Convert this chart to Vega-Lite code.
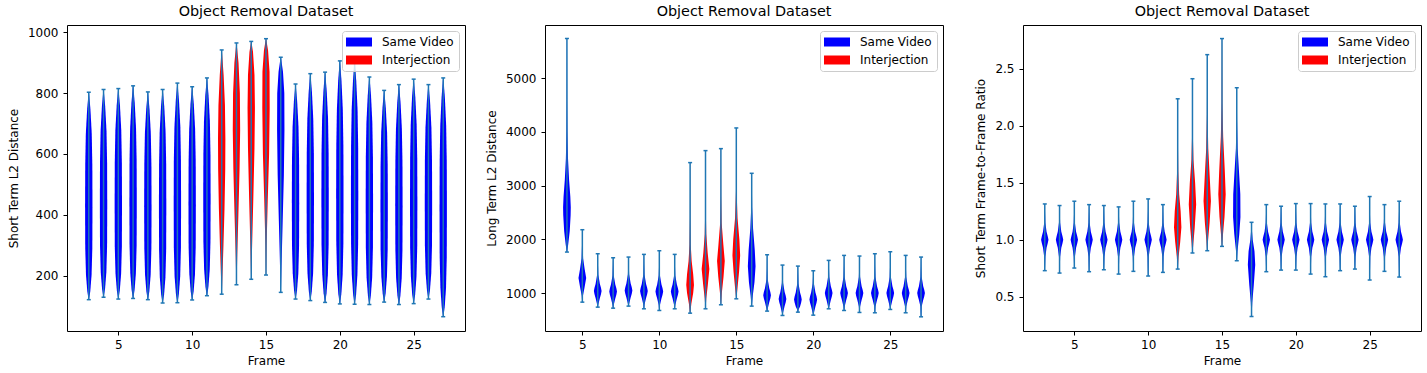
{
"$schema": "https://vega.github.io/schema/vega-lite/v6.json",
"background": "white",
"padding": {"left": 6, "top": 3, "right": 5, "bottom": 5},
"spacing": 80,
"bounds": "flush",
"datasets": {
"m1": [
{"f":3,"k":"Same Video","min":121,"max":803},{"f":4,"k":"Same Video","min":129,"max":812},{"f":5,"k":"Same Video","min":123,"max":815},{"f":6,"k":"Same Video","min":125,"max":824},{"f":7,"k":"Same Video","min":121,"max":804},{"f":8,"k":"Same Video","min":110,"max":812},{"f":9,"k":"Same Video","min":111,"max":833},{"f":10,"k":"Same Video","min":120,"max":821},{"f":11,"k":"Same Video","min":134,"max":850},{"f":12,"k":"Interjection","min":139,"max":942},{"f":13,"k":"Interjection","min":170,"max":965},{"f":14,"k":"Interjection","min":188,"max":970},{"f":15,"k":"Interjection","min":202,"max":979},{"f":16,"k":"Same Video","min":145,"max":918},{"f":17,"k":"Same Video","min":123,"max":830},{"f":18,"k":"Same Video","min":118,"max":864},{"f":19,"k":"Same Video","min":112,"max":869},{"f":20,"k":"Same Video","min":107,"max":906},{"f":21,"k":"Same Video","min":106,"max":905},{"f":22,"k":"Same Video","min":105,"max":853},{"f":23,"k":"Same Video","min":113,"max":809},{"f":24,"k":"Same Video","min":105,"max":828},{"f":25,"k":"Same Video","min":108,"max":846},{"f":26,"k":"Same Video","min":123,"max":828},{"f":27,"k":"Same Video","min":65,"max":850}
],
"m2": [
{"f":4,"k":"Same Video","min":1764,"max":5739},{"f":5,"k":"Same Video","min":832,"max":2180},{"f":6,"k":"Same Video","min":739,"max":1733},{"f":7,"k":"Same Video","min":720,"max":1658},{"f":8,"k":"Same Video","min":758,"max":1671},{"f":9,"k":"Same Video","min":708,"max":1721},{"f":10,"k":"Same Video","min":677,"max":1789},{"f":11,"k":"Same Video","min":708,"max":1721},{"f":12,"k":"Interjection","min":627,"max":3429},{"f":13,"k":"Interjection","min":708,"max":3652},{"f":14,"k":"Interjection","min":783,"max":3689},{"f":15,"k":"Interjection","min":894,"max":4074},{"f":16,"k":"Same Video","min":758,"max":3230},{"f":17,"k":"Same Video","min":665,"max":1714},{"f":18,"k":"Same Video","min":584,"max":1522},{"f":19,"k":"Same Video","min":646,"max":1503},{"f":20,"k":"Same Video","min":590,"max":1416},{"f":21,"k":"Same Video","min":708,"max":1609},{"f":22,"k":"Same Video","min":677,"max":1702},{"f":23,"k":"Same Video","min":640,"max":1690},{"f":24,"k":"Same Video","min":634,"max":1733},{"f":25,"k":"Same Video","min":696,"max":1770},{"f":26,"k":"Same Video","min":634,"max":1702},{"f":27,"k":"Same Video","min":559,"max":1671}
],
"m3": [
{"f":3,"k":"Same Video","min":0.729,"max":1.314},{"f":4,"k":"Same Video","min":0.708,"max":1.3},{"f":5,"k":"Same Video","min":0.752,"max":1.338},{"f":6,"k":"Same Video","min":0.72,"max":1.308},{"f":7,"k":"Same Video","min":0.737,"max":1.3},{"f":8,"k":"Same Video","min":0.699,"max":1.288},{"f":9,"k":"Same Video","min":0.723,"max":1.338},{"f":10,"k":"Same Video","min":0.682,"max":1.358},{"f":11,"k":"Same Video","min":0.714,"max":1.308},{"f":12,"k":"Interjection","min":0.743,"max":2.236},{"f":13,"k":"Interjection","min":0.884,"max":2.412},{"f":14,"k":"Interjection","min":0.904,"max":2.623},{"f":15,"k":"Interjection","min":0.942,"max":2.764},{"f":16,"k":"Same Video","min":0.816,"max":2.333},{"f":17,"k":"Same Video","min":0.327,"max":1.153},{"f":18,"k":"Same Video","min":0.72,"max":1.308},{"f":19,"k":"Same Video","min":0.734,"max":1.294},{"f":20,"k":"Same Video","min":0.734,"max":1.317},{"f":21,"k":"Same Video","min":0.699,"max":1.317},{"f":22,"k":"Same Video","min":0.676,"max":1.314},{"f":23,"k":"Same Video","min":0.729,"max":1.314},{"f":24,"k":"Same Video","min":0.743,"max":1.294},{"f":25,"k":"Same Video","min":0.647,"max":1.379},{"f":26,"k":"Same Video","min":0.723,"max":1.308},{"f":27,"k":"Same Video","min":0.673,"max":1.338}
],
"s1": [
{"f":3,"y":121,"lo":2.99,"hi":3.01},{"f":3,"y":148,"lo":2.9,"hi":3.1},{"f":3,"y":203,"lo":2.81,"hi":3.19},{"f":3,"y":292,"lo":2.76,"hi":3.24},{"f":3,"y":428,"lo":2.75,"hi":3.25},{"f":3,"y":564,"lo":2.76,"hi":3.24},{"f":3,"y":667,"lo":2.8,"hi":3.2},{"f":3,"y":748,"lo":2.89,"hi":3.11},{"f":3,"y":803,"lo":2.99,"hi":3.01},
{"f":4,"y":129,"lo":3.99,"hi":4.01},{"f":4,"y":156,"lo":3.9,"hi":4.1},{"f":4,"y":211,"lo":3.81,"hi":4.19},{"f":4,"y":300,"lo":3.76,"hi":4.24},{"f":4,"y":436,"lo":3.75,"hi":4.25},{"f":4,"y":573,"lo":3.76,"hi":4.24},{"f":4,"y":675,"lo":3.8,"hi":4.2},{"f":4,"y":757,"lo":3.89,"hi":4.11},{"f":4,"y":812,"lo":3.99,"hi":4.01},
{"f":5,"y":123,"lo":4.99,"hi":5.01},{"f":5,"y":151,"lo":4.9,"hi":5.1},{"f":5,"y":206,"lo":4.81,"hi":5.19},{"f":5,"y":296,"lo":4.76,"hi":5.24},{"f":5,"y":434,"lo":4.75,"hi":5.25},{"f":5,"y":573,"lo":4.76,"hi":5.24},{"f":5,"y":677,"lo":4.8,"hi":5.2},{"f":5,"y":760,"lo":4.89,"hi":5.11},{"f":5,"y":815,"lo":4.99,"hi":5.01},
{"f":6,"y":125,"lo":5.99,"hi":6.01},{"f":6,"y":153,"lo":5.9,"hi":6.1},{"f":6,"y":209,"lo":5.81,"hi":6.19},{"f":6,"y":300,"lo":5.76,"hi":6.24},{"f":6,"y":440,"lo":5.75,"hi":6.25},{"f":6,"y":579,"lo":5.76,"hi":6.24},{"f":6,"y":684,"lo":5.8,"hi":6.2},{"f":6,"y":768,"lo":5.89,"hi":6.11},{"f":6,"y":824,"lo":5.99,"hi":6.01},
{"f":7,"y":121,"lo":6.99,"hi":7.01},{"f":7,"y":148,"lo":6.9,"hi":7.1},{"f":7,"y":203,"lo":6.81,"hi":7.19},{"f":7,"y":292,"lo":6.76,"hi":7.24},{"f":7,"y":428,"lo":6.75,"hi":7.25},{"f":7,"y":565,"lo":6.76,"hi":7.24},{"f":7,"y":667,"lo":6.8,"hi":7.2},{"f":7,"y":749,"lo":6.89,"hi":7.11},{"f":7,"y":804,"lo":6.99,"hi":7.01},
{"f":8,"y":110,"lo":7.99,"hi":8.01},{"f":8,"y":138,"lo":7.9,"hi":8.1},{"f":8,"y":194,"lo":7.81,"hi":8.19},{"f":8,"y":286,"lo":7.76,"hi":8.24},{"f":8,"y":426,"lo":7.75,"hi":8.25},{"f":8,"y":566,"lo":7.76,"hi":8.24},{"f":8,"y":672,"lo":7.8,"hi":8.2},{"f":8,"y":756,"lo":7.89,"hi":8.11},{"f":8,"y":812,"lo":7.99,"hi":8.01},
{"f":9,"y":111,"lo":8.99,"hi":9.01},{"f":9,"y":140,"lo":8.9,"hi":9.1},{"f":9,"y":198,"lo":8.81,"hi":9.19},{"f":9,"y":292,"lo":8.76,"hi":9.24},{"f":9,"y":436,"lo":8.75,"hi":9.25},{"f":9,"y":580,"lo":8.76,"hi":9.24},{"f":9,"y":689,"lo":8.8,"hi":9.2},{"f":9,"y":775,"lo":8.89,"hi":9.11},{"f":9,"y":833,"lo":8.99,"hi":9.01},
{"f":10,"y":120,"lo":9.99,"hi":10.01},{"f":10,"y":148,"lo":9.9,"hi":10.1},{"f":10,"y":204,"lo":9.81,"hi":10.19},{"f":10,"y":295,"lo":9.76,"hi":10.24},{"f":10,"y":435,"lo":9.75,"hi":10.25},{"f":10,"y":576,"lo":9.76,"hi":10.24},{"f":10,"y":681,"lo":9.8,"hi":10.2},{"f":10,"y":765,"lo":9.89,"hi":10.11},{"f":10,"y":821,"lo":9.99,"hi":10.01},
{"f":11,"y":134,"lo":10.99,"hi":11.01},{"f":11,"y":163,"lo":10.9,"hi":11.1},{"f":11,"y":220,"lo":10.81,"hi":11.19},{"f":11,"y":313,"lo":10.76,"hi":11.24},{"f":11,"y":456,"lo":10.75,"hi":11.25},{"f":11,"y":599,"lo":10.76,"hi":11.24},{"f":11,"y":707,"lo":10.8,"hi":11.2},{"f":11,"y":793,"lo":10.89,"hi":11.11},{"f":11,"y":850,"lo":10.99,"hi":11.01},
{"f":12,"y":139,"lo":11.99,"hi":12.01},{"f":12,"y":200,"lo":11.95,"hi":12.05},{"f":12,"y":300,"lo":11.88,"hi":12.12},{"f":12,"y":420,"lo":11.81,"hi":12.19},{"f":12,"y":550,"lo":11.76,"hi":12.24},{"f":12,"y":650,"lo":11.75,"hi":12.25},{"f":12,"y":760,"lo":11.78,"hi":12.22},{"f":12,"y":860,"lo":11.87,"hi":12.13},{"f":12,"y":942,"lo":11.99,"hi":12.01},
{"f":13,"y":170,"lo":12.99,"hi":13.01},{"f":13,"y":260,"lo":12.95,"hi":13.05},{"f":13,"y":400,"lo":12.87,"hi":13.13},{"f":13,"y":550,"lo":12.79,"hi":13.21},{"f":13,"y":680,"lo":12.75,"hi":13.25},{"f":13,"y":800,"lo":12.77,"hi":13.23},{"f":13,"y":900,"lo":12.86,"hi":13.14},{"f":13,"y":965,"lo":12.99,"hi":13.01},
{"f":14,"y":188,"lo":13.99,"hi":14.01},{"f":14,"y":280,"lo":13.95,"hi":14.05},{"f":14,"y":450,"lo":13.86,"hi":14.14},{"f":14,"y":620,"lo":13.78,"hi":14.22},{"f":14,"y":750,"lo":13.75,"hi":14.25},{"f":14,"y":860,"lo":13.78,"hi":14.22},{"f":14,"y":935,"lo":13.88,"hi":14.12},{"f":14,"y":970,"lo":13.99,"hi":14.01},
{"f":15,"y":202,"lo":14.99,"hi":15.01},{"f":15,"y":300,"lo":14.96,"hi":15.04},{"f":15,"y":450,"lo":14.88,"hi":15.12},{"f":15,"y":600,"lo":14.79,"hi":15.21},{"f":15,"y":750,"lo":14.75,"hi":15.25},{"f":15,"y":870,"lo":14.76,"hi":15.24},{"f":15,"y":940,"lo":14.86,"hi":15.14},{"f":15,"y":979,"lo":14.99,"hi":15.01},
{"f":16,"y":145,"lo":15.99,"hi":16.01},{"f":16,"y":230,"lo":15.95,"hi":16.05},{"f":16,"y":380,"lo":15.87,"hi":16.13},{"f":16,"y":530,"lo":15.79,"hi":16.21},{"f":16,"y":680,"lo":15.75,"hi":16.25},{"f":16,"y":800,"lo":15.76,"hi":16.24},{"f":16,"y":870,"lo":15.85,"hi":16.15},{"f":16,"y":918,"lo":15.99,"hi":16.01},
{"f":17,"y":123,"lo":16.99,"hi":17.01},{"f":17,"y":151,"lo":16.9,"hi":17.1},{"f":17,"y":208,"lo":16.81,"hi":17.19},{"f":17,"y":300,"lo":16.76,"hi":17.24},{"f":17,"y":441,"lo":16.75,"hi":17.25},{"f":17,"y":583,"lo":16.76,"hi":17.24},{"f":17,"y":689,"lo":16.8,"hi":17.2},{"f":17,"y":773,"lo":16.89,"hi":17.11},{"f":17,"y":830,"lo":16.99,"hi":17.01},
{"f":18,"y":118,"lo":17.99,"hi":18.01},{"f":18,"y":148,"lo":17.9,"hi":18.1},{"f":18,"y":208,"lo":17.81,"hi":18.19},{"f":18,"y":305,"lo":17.76,"hi":18.24},{"f":18,"y":454,"lo":17.75,"hi":18.25},{"f":18,"y":603,"lo":17.76,"hi":18.24},{"f":18,"y":715,"lo":17.8,"hi":18.2},{"f":18,"y":804,"lo":17.89,"hi":18.11},{"f":18,"y":864,"lo":17.99,"hi":18.01},
{"f":19,"y":112,"lo":18.99,"hi":19.01},{"f":19,"y":142,"lo":18.9,"hi":19.1},{"f":19,"y":203,"lo":18.81,"hi":19.19},{"f":19,"y":301,"lo":18.76,"hi":19.24},{"f":19,"y":453,"lo":18.75,"hi":19.25},{"f":19,"y":604,"lo":18.76,"hi":19.24},{"f":19,"y":718,"lo":18.8,"hi":19.2},{"f":19,"y":808,"lo":18.89,"hi":19.11},{"f":19,"y":869,"lo":18.99,"hi":19.01},
{"f":20,"y":107,"lo":19.99,"hi":20.01},{"f":20,"y":139,"lo":19.9,"hi":20.1},{"f":20,"y":203,"lo":19.81,"hi":20.19},{"f":20,"y":307,"lo":19.76,"hi":20.24},{"f":20,"y":467,"lo":19.75,"hi":20.25},{"f":20,"y":626,"lo":19.76,"hi":20.24},{"f":20,"y":746,"lo":19.8,"hi":20.2},{"f":20,"y":842,"lo":19.89,"hi":20.11},{"f":20,"y":906,"lo":19.99,"hi":20.01},
{"f":21,"y":106,"lo":20.99,"hi":21.01},{"f":21,"y":138,"lo":20.9,"hi":21.1},{"f":21,"y":202,"lo":20.81,"hi":21.19},{"f":21,"y":306,"lo":20.76,"hi":21.24},{"f":21,"y":466,"lo":20.75,"hi":21.25},{"f":21,"y":625,"lo":20.76,"hi":21.24},{"f":21,"y":745,"lo":20.8,"hi":21.2},{"f":21,"y":841,"lo":20.89,"hi":21.11},{"f":21,"y":905,"lo":20.99,"hi":21.01},
{"f":22,"y":105,"lo":21.99,"hi":22.01},{"f":22,"y":135,"lo":21.9,"hi":22.1},{"f":22,"y":195,"lo":21.81,"hi":22.19},{"f":22,"y":292,"lo":21.76,"hi":22.24},{"f":22,"y":442,"lo":21.75,"hi":22.25},{"f":22,"y":591,"lo":21.76,"hi":22.24},{"f":22,"y":703,"lo":21.8,"hi":22.2},{"f":22,"y":793,"lo":21.89,"hi":22.11},{"f":22,"y":853,"lo":21.99,"hi":22.01},
{"f":23,"y":113,"lo":22.99,"hi":23.01},{"f":23,"y":141,"lo":22.9,"hi":23.1},{"f":23,"y":197,"lo":22.81,"hi":23.19},{"f":23,"y":287,"lo":22.76,"hi":23.24},{"f":23,"y":426,"lo":22.75,"hi":23.25},{"f":23,"y":565,"lo":22.76,"hi":23.24},{"f":23,"y":670,"lo":22.8,"hi":23.2},{"f":23,"y":753,"lo":22.89,"hi":23.11},{"f":23,"y":809,"lo":22.99,"hi":23.01},
{"f":24,"y":105,"lo":23.99,"hi":24.01},{"f":24,"y":134,"lo":23.9,"hi":24.1},{"f":24,"y":192,"lo":23.81,"hi":24.19},{"f":24,"y":286,"lo":23.76,"hi":24.24},{"f":24,"y":430,"lo":23.75,"hi":24.25},{"f":24,"y":575,"lo":23.76,"hi":24.24},{"f":24,"y":683,"lo":23.8,"hi":24.2},{"f":24,"y":770,"lo":23.89,"hi":24.11},{"f":24,"y":828,"lo":23.99,"hi":24.01},
{"f":25,"y":108,"lo":24.99,"hi":25.01},{"f":25,"y":138,"lo":24.9,"hi":25.1},{"f":25,"y":197,"lo":24.81,"hi":25.19},{"f":25,"y":293,"lo":24.76,"hi":25.24},{"f":25,"y":440,"lo":24.75,"hi":25.25},{"f":25,"y":588,"lo":24.76,"hi":25.24},{"f":25,"y":698,"lo":24.8,"hi":25.2},{"f":25,"y":787,"lo":24.89,"hi":25.11},{"f":25,"y":846,"lo":24.99,"hi":25.01},
{"f":26,"y":123,"lo":25.99,"hi":26.01},{"f":26,"y":151,"lo":25.9,"hi":26.1},{"f":26,"y":208,"lo":25.81,"hi":26.19},{"f":26,"y":299,"lo":25.76,"hi":26.24},{"f":26,"y":440,"lo":25.75,"hi":26.25},{"f":26,"y":581,"lo":25.76,"hi":26.24},{"f":26,"y":687,"lo":25.8,"hi":26.2},{"f":26,"y":772,"lo":25.89,"hi":26.11},{"f":26,"y":828,"lo":25.99,"hi":26.01},
{"f":27,"y":65,"lo":26.99,"hi":27.01},{"f":27,"y":96,"lo":26.9,"hi":27.1},{"f":27,"y":159,"lo":26.81,"hi":27.19},{"f":27,"y":261,"lo":26.76,"hi":27.24},{"f":27,"y":418,"lo":26.75,"hi":27.25},{"f":27,"y":575,"lo":26.76,"hi":27.24},{"f":27,"y":693,"lo":26.8,"hi":27.2},{"f":27,"y":787,"lo":26.89,"hi":27.11},{"f":27,"y":850,"lo":26.99,"hi":27.01}
],
"s2": [
{"f":4,"y":1764,"lo":3.99,"hi":4.01},{"f":4,"y":1900,"lo":3.92,"hi":4.08},{"f":4,"y":2150,"lo":3.82,"hi":4.18},{"f":4,"y":2450,"lo":3.76,"hi":4.24},{"f":4,"y":2600,"lo":3.75,"hi":4.25},{"f":4,"y":2800,"lo":3.78,"hi":4.22},{"f":4,"y":3100,"lo":3.86,"hi":4.14},{"f":4,"y":3500,"lo":3.93,"hi":4.07},{"f":4,"y":4000,"lo":3.97,"hi":4.03},{"f":4,"y":4600,"lo":3.988,"hi":4.012},{"f":4,"y":5739,"lo":3.995,"hi":4.005},
{"f":5,"y":832,"lo":4.99,"hi":5.01},{"f":5,"y":950,"lo":4.96,"hi":5.04},{"f":5,"y":1100,"lo":4.86,"hi":5.14},{"f":5,"y":1280,"lo":4.75,"hi":5.25},{"f":5,"y":1450,"lo":4.85,"hi":5.15},{"f":5,"y":1650,"lo":4.95,"hi":5.05},{"f":5,"y":1900,"lo":4.98,"hi":5.02},{"f":5,"y":2180,"lo":4.995,"hi":5.005},
{"f":6,"y":739,"lo":5.99,"hi":6.01},{"f":6,"y":790,"lo":5.96,"hi":6.04},{"f":6,"y":910,"lo":5.86,"hi":6.14},{"f":6,"y":980,"lo":5.79,"hi":6.21},{"f":6,"y":1040,"lo":5.75,"hi":6.25},{"f":6,"y":1100,"lo":5.79,"hi":6.21},{"f":6,"y":1170,"lo":5.86,"hi":6.14},{"f":6,"y":1340,"lo":5.96,"hi":6.04},{"f":6,"y":1540,"lo":5.985,"hi":6.015},{"f":6,"y":1733,"lo":5.995,"hi":6.005},
{"f":7,"y":720,"lo":6.99,"hi":7.01},{"f":7,"y":780,"lo":6.96,"hi":7.04},{"f":7,"y":900,"lo":6.86,"hi":7.14},{"f":7,"y":970,"lo":6.79,"hi":7.21},{"f":7,"y":1030,"lo":6.75,"hi":7.25},{"f":7,"y":1090,"lo":6.79,"hi":7.21},{"f":7,"y":1160,"lo":6.86,"hi":7.14},{"f":7,"y":1330,"lo":6.96,"hi":7.04},{"f":7,"y":1530,"lo":6.985,"hi":7.015},{"f":7,"y":1658,"lo":6.995,"hi":7.005},
{"f":8,"y":758,"lo":7.99,"hi":8.01},{"f":8,"y":800,"lo":7.96,"hi":8.04},{"f":8,"y":920,"lo":7.86,"hi":8.14},{"f":8,"y":990,"lo":7.79,"hi":8.21},{"f":8,"y":1050,"lo":7.75,"hi":8.25},{"f":8,"y":1110,"lo":7.79,"hi":8.21},{"f":8,"y":1180,"lo":7.86,"hi":8.14},{"f":8,"y":1350,"lo":7.96,"hi":8.04},{"f":8,"y":1550,"lo":7.985,"hi":8.015},{"f":8,"y":1671,"lo":7.995,"hi":8.005},
{"f":9,"y":708,"lo":8.99,"hi":9.01},{"f":9,"y":790,"lo":8.96,"hi":9.04},{"f":9,"y":910,"lo":8.86,"hi":9.14},{"f":9,"y":980,"lo":8.79,"hi":9.21},{"f":9,"y":1040,"lo":8.75,"hi":9.25},{"f":9,"y":1100,"lo":8.79,"hi":9.21},{"f":9,"y":1170,"lo":8.86,"hi":9.14},{"f":9,"y":1340,"lo":8.96,"hi":9.04},{"f":9,"y":1540,"lo":8.985,"hi":9.015},{"f":9,"y":1721,"lo":8.995,"hi":9.005},
{"f":10,"y":677,"lo":9.99,"hi":10.01},{"f":10,"y":780,"lo":9.96,"hi":10.04},{"f":10,"y":900,"lo":9.86,"hi":10.14},{"f":10,"y":970,"lo":9.79,"hi":10.21},{"f":10,"y":1030,"lo":9.75,"hi":10.25},{"f":10,"y":1090,"lo":9.79,"hi":10.21},{"f":10,"y":1160,"lo":9.86,"hi":10.14},{"f":10,"y":1330,"lo":9.96,"hi":10.04},{"f":10,"y":1530,"lo":9.985,"hi":10.015},{"f":10,"y":1789,"lo":9.995,"hi":10.005},
{"f":11,"y":708,"lo":10.99,"hi":11.01},{"f":11,"y":780,"lo":10.96,"hi":11.04},{"f":11,"y":900,"lo":10.86,"hi":11.14},{"f":11,"y":970,"lo":10.79,"hi":11.21},{"f":11,"y":1030,"lo":10.75,"hi":11.25},{"f":11,"y":1090,"lo":10.79,"hi":11.21},{"f":11,"y":1160,"lo":10.86,"hi":11.14},{"f":11,"y":1330,"lo":10.96,"hi":11.04},{"f":11,"y":1530,"lo":10.985,"hi":11.015},{"f":11,"y":1721,"lo":10.995,"hi":11.005},
{"f":12,"y":627,"lo":11.99,"hi":12.01},{"f":12,"y":800,"lo":11.92,"hi":12.08},{"f":12,"y":1000,"lo":11.8,"hi":12.2},{"f":12,"y":1150,"lo":11.75,"hi":12.25},{"f":12,"y":1350,"lo":11.8,"hi":12.2},{"f":12,"y":1600,"lo":11.9,"hi":12.1},{"f":12,"y":1900,"lo":11.96,"hi":12.04},{"f":12,"y":2400,"lo":11.988,"hi":12.012},{"f":12,"y":3429,"lo":11.995,"hi":12.005},
{"f":13,"y":708,"lo":12.99,"hi":13.01},{"f":13,"y":900,"lo":12.95,"hi":13.05},{"f":13,"y":1150,"lo":12.85,"hi":13.15},{"f":13,"y":1450,"lo":12.75,"hi":13.25},{"f":13,"y":1750,"lo":12.86,"hi":13.14},{"f":13,"y":2100,"lo":12.95,"hi":13.05},{"f":13,"y":2600,"lo":12.985,"hi":13.015},{"f":13,"y":3652,"lo":12.995,"hi":13.005},
{"f":14,"y":783,"lo":13.99,"hi":14.01},{"f":14,"y":1000,"lo":13.94,"hi":14.06},{"f":14,"y":1300,"lo":13.83,"hi":14.17},{"f":14,"y":1600,"lo":13.75,"hi":14.25},{"f":14,"y":1900,"lo":13.84,"hi":14.16},{"f":14,"y":2300,"lo":13.95,"hi":14.05},{"f":14,"y":2800,"lo":13.985,"hi":14.015},{"f":14,"y":3689,"lo":13.995,"hi":14.005},
{"f":15,"y":894,"lo":14.99,"hi":15.01},{"f":15,"y":1100,"lo":14.92,"hi":15.08},{"f":15,"y":1400,"lo":14.82,"hi":15.18},{"f":15,"y":1700,"lo":14.75,"hi":15.25},{"f":15,"y":2000,"lo":14.8,"hi":15.2},{"f":15,"y":2400,"lo":14.92,"hi":15.08},{"f":15,"y":2900,"lo":14.98,"hi":15.02},{"f":15,"y":4074,"lo":14.995,"hi":15.005},
{"f":16,"y":758,"lo":15.99,"hi":16.01},{"f":16,"y":950,"lo":15.93,"hi":16.07},{"f":16,"y":1200,"lo":15.82,"hi":16.18},{"f":16,"y":1500,"lo":15.75,"hi":16.25},{"f":16,"y":1800,"lo":15.8,"hi":16.2},{"f":16,"y":2200,"lo":15.91,"hi":16.09},{"f":16,"y":2600,"lo":15.97,"hi":16.03},{"f":16,"y":3230,"lo":15.995,"hi":16.005},
{"f":17,"y":665,"lo":16.99,"hi":17.01},{"f":17,"y":710,"lo":16.96,"hi":17.04},{"f":17,"y":830,"lo":16.86,"hi":17.14},{"f":17,"y":900,"lo":16.79,"hi":17.21},{"f":17,"y":960,"lo":16.75,"hi":17.25},{"f":17,"y":1020,"lo":16.79,"hi":17.21},{"f":17,"y":1090,"lo":16.86,"hi":17.14},{"f":17,"y":1260,"lo":16.96,"hi":17.04},{"f":17,"y":1460,"lo":16.985,"hi":17.015},{"f":17,"y":1714,"lo":16.995,"hi":17.005},
{"f":18,"y":584,"lo":17.99,"hi":18.01},{"f":18,"y":640,"lo":17.96,"hi":18.04},{"f":18,"y":760,"lo":17.86,"hi":18.14},{"f":18,"y":830,"lo":17.79,"hi":18.21},{"f":18,"y":890,"lo":17.75,"hi":18.25},{"f":18,"y":950,"lo":17.79,"hi":18.21},{"f":18,"y":1020,"lo":17.86,"hi":18.14},{"f":18,"y":1190,"lo":17.96,"hi":18.04},{"f":18,"y":1390,"lo":17.985,"hi":18.015},{"f":18,"y":1522,"lo":17.995,"hi":18.005},
{"f":19,"y":646,"lo":18.99,"hi":19.01},{"f":19,"y":690,"lo":18.96,"hi":19.04},{"f":19,"y":750,"lo":18.86,"hi":19.14},{"f":19,"y":820,"lo":18.79,"hi":19.21},{"f":19,"y":880,"lo":18.75,"hi":19.25},{"f":19,"y":940,"lo":18.79,"hi":19.21},{"f":19,"y":1010,"lo":18.86,"hi":19.14},{"f":19,"y":1180,"lo":18.96,"hi":19.04},{"f":19,"y":1380,"lo":18.985,"hi":19.015},{"f":19,"y":1503,"lo":18.995,"hi":19.005},
{"f":20,"y":590,"lo":19.99,"hi":20.01},{"f":20,"y":630,"lo":19.96,"hi":20.04},{"f":20,"y":750,"lo":19.86,"hi":20.14},{"f":20,"y":820,"lo":19.79,"hi":20.21},{"f":20,"y":880,"lo":19.75,"hi":20.25},{"f":20,"y":940,"lo":19.79,"hi":20.21},{"f":20,"y":1010,"lo":19.86,"hi":20.14},{"f":20,"y":1180,"lo":19.96,"hi":20.04},{"f":20,"y":1330,"lo":19.985,"hi":20.015},{"f":20,"y":1416,"lo":19.995,"hi":20.005},
{"f":21,"y":708,"lo":20.99,"hi":21.01},{"f":21,"y":750,"lo":20.96,"hi":21.04},{"f":21,"y":870,"lo":20.86,"hi":21.14},{"f":21,"y":940,"lo":20.79,"hi":21.21},{"f":21,"y":1000,"lo":20.75,"hi":21.25},{"f":21,"y":1060,"lo":20.79,"hi":21.21},{"f":21,"y":1130,"lo":20.86,"hi":21.14},{"f":21,"y":1300,"lo":20.96,"hi":21.04},{"f":21,"y":1500,"lo":20.985,"hi":21.015},{"f":21,"y":1609,"lo":20.995,"hi":21.005},
{"f":22,"y":677,"lo":21.99,"hi":22.01},{"f":22,"y":750,"lo":21.96,"hi":22.04},{"f":22,"y":870,"lo":21.86,"hi":22.14},{"f":22,"y":940,"lo":21.79,"hi":22.21},{"f":22,"y":1000,"lo":21.75,"hi":22.25},{"f":22,"y":1060,"lo":21.79,"hi":22.21},{"f":22,"y":1130,"lo":21.86,"hi":22.14},{"f":22,"y":1300,"lo":21.96,"hi":22.04},{"f":22,"y":1500,"lo":21.985,"hi":22.015},{"f":22,"y":1702,"lo":21.995,"hi":22.005},
{"f":23,"y":640,"lo":22.99,"hi":23.01},{"f":23,"y":750,"lo":22.96,"hi":23.04},{"f":23,"y":870,"lo":22.86,"hi":23.14},{"f":23,"y":940,"lo":22.79,"hi":23.21},{"f":23,"y":1000,"lo":22.75,"hi":23.25},{"f":23,"y":1060,"lo":22.79,"hi":23.21},{"f":23,"y":1130,"lo":22.86,"hi":23.14},{"f":23,"y":1300,"lo":22.96,"hi":23.04},{"f":23,"y":1500,"lo":22.985,"hi":23.015},{"f":23,"y":1690,"lo":22.995,"hi":23.005},
{"f":24,"y":634,"lo":23.99,"hi":24.01},{"f":24,"y":750,"lo":23.96,"hi":24.04},{"f":24,"y":870,"lo":23.86,"hi":24.14},{"f":24,"y":940,"lo":23.79,"hi":24.21},{"f":24,"y":1000,"lo":23.75,"hi":24.25},{"f":24,"y":1060,"lo":23.79,"hi":24.21},{"f":24,"y":1130,"lo":23.86,"hi":24.14},{"f":24,"y":1300,"lo":23.96,"hi":24.04},{"f":24,"y":1500,"lo":23.985,"hi":24.015},{"f":24,"y":1733,"lo":23.995,"hi":24.005},
{"f":25,"y":696,"lo":24.99,"hi":25.01},{"f":25,"y":750,"lo":24.96,"hi":25.04},{"f":25,"y":870,"lo":24.86,"hi":25.14},{"f":25,"y":940,"lo":24.79,"hi":25.21},{"f":25,"y":1000,"lo":24.75,"hi":25.25},{"f":25,"y":1060,"lo":24.79,"hi":25.21},{"f":25,"y":1130,"lo":24.86,"hi":25.14},{"f":25,"y":1300,"lo":24.96,"hi":25.04},{"f":25,"y":1500,"lo":24.985,"hi":25.015},{"f":25,"y":1770,"lo":24.995,"hi":25.005},
{"f":26,"y":634,"lo":25.99,"hi":26.01},{"f":26,"y":750,"lo":25.96,"hi":26.04},{"f":26,"y":870,"lo":25.86,"hi":26.14},{"f":26,"y":940,"lo":25.79,"hi":26.21},{"f":26,"y":1000,"lo":25.75,"hi":26.25},{"f":26,"y":1060,"lo":25.79,"hi":26.21},{"f":26,"y":1130,"lo":25.86,"hi":26.14},{"f":26,"y":1300,"lo":25.96,"hi":26.04},{"f":26,"y":1500,"lo":25.985,"hi":26.015},{"f":26,"y":1702,"lo":25.995,"hi":26.005},
{"f":27,"y":559,"lo":26.99,"hi":27.01},{"f":27,"y":750,"lo":26.96,"hi":27.04},{"f":27,"y":870,"lo":26.86,"hi":27.14},{"f":27,"y":940,"lo":26.79,"hi":27.21},{"f":27,"y":1000,"lo":26.75,"hi":27.25},{"f":27,"y":1060,"lo":26.79,"hi":27.21},{"f":27,"y":1130,"lo":26.86,"hi":27.14},{"f":27,"y":1300,"lo":26.96,"hi":27.04},{"f":27,"y":1500,"lo":26.985,"hi":27.015},{"f":27,"y":1671,"lo":26.995,"hi":27.005}
],
"s3": [
{"f":3,"y":0.729,"lo":2.99,"hi":3.01},{"f":3,"y":0.85,"lo":2.96,"hi":3.04},{"f":3,"y":0.93,"lo":2.88,"hi":3.12},{"f":3,"y":0.97,"lo":2.8,"hi":3.2},{"f":3,"y":1.0,"lo":2.75,"hi":3.25},{"f":3,"y":1.03,"lo":2.8,"hi":3.2},{"f":3,"y":1.07,"lo":2.88,"hi":3.12},{"f":3,"y":1.15,"lo":2.96,"hi":3.04},{"f":3,"y":1.25,"lo":2.985,"hi":3.015},{"f":3,"y":1.314,"lo":2.995,"hi":3.005},
{"f":4,"y":0.708,"lo":3.99,"hi":4.01},{"f":4,"y":0.85,"lo":3.96,"hi":4.04},{"f":4,"y":0.93,"lo":3.88,"hi":4.12},{"f":4,"y":0.97,"lo":3.8,"hi":4.2},{"f":4,"y":1.0,"lo":3.75,"hi":4.25},{"f":4,"y":1.03,"lo":3.8,"hi":4.2},{"f":4,"y":1.07,"lo":3.88,"hi":4.12},{"f":4,"y":1.15,"lo":3.96,"hi":4.04},{"f":4,"y":1.25,"lo":3.985,"hi":4.015},{"f":4,"y":1.3,"lo":3.995,"hi":4.005},
{"f":5,"y":0.752,"lo":4.99,"hi":5.01},{"f":5,"y":0.85,"lo":4.96,"hi":5.04},{"f":5,"y":0.93,"lo":4.88,"hi":5.12},{"f":5,"y":0.97,"lo":4.8,"hi":5.2},{"f":5,"y":1.0,"lo":4.75,"hi":5.25},{"f":5,"y":1.03,"lo":4.8,"hi":5.2},{"f":5,"y":1.07,"lo":4.88,"hi":5.12},{"f":5,"y":1.15,"lo":4.96,"hi":5.04},{"f":5,"y":1.25,"lo":4.985,"hi":5.015},{"f":5,"y":1.338,"lo":4.995,"hi":5.005},
{"f":6,"y":0.72,"lo":5.99,"hi":6.01},{"f":6,"y":0.85,"lo":5.96,"hi":6.04},{"f":6,"y":0.93,"lo":5.88,"hi":6.12},{"f":6,"y":0.97,"lo":5.8,"hi":6.2},{"f":6,"y":1.0,"lo":5.75,"hi":6.25},{"f":6,"y":1.03,"lo":5.8,"hi":6.2},{"f":6,"y":1.07,"lo":5.88,"hi":6.12},{"f":6,"y":1.15,"lo":5.96,"hi":6.04},{"f":6,"y":1.25,"lo":5.985,"hi":6.015},{"f":6,"y":1.308,"lo":5.995,"hi":6.005},
{"f":7,"y":0.737,"lo":6.99,"hi":7.01},{"f":7,"y":0.85,"lo":6.96,"hi":7.04},{"f":7,"y":0.93,"lo":6.88,"hi":7.12},{"f":7,"y":0.97,"lo":6.8,"hi":7.2},{"f":7,"y":1.0,"lo":6.75,"hi":7.25},{"f":7,"y":1.03,"lo":6.8,"hi":7.2},{"f":7,"y":1.07,"lo":6.88,"hi":7.12},{"f":7,"y":1.15,"lo":6.96,"hi":7.04},{"f":7,"y":1.25,"lo":6.985,"hi":7.015},{"f":7,"y":1.3,"lo":6.995,"hi":7.005},
{"f":8,"y":0.699,"lo":7.99,"hi":8.01},{"f":8,"y":0.85,"lo":7.96,"hi":8.04},{"f":8,"y":0.93,"lo":7.88,"hi":8.12},{"f":8,"y":0.97,"lo":7.8,"hi":8.2},{"f":8,"y":1.0,"lo":7.75,"hi":8.25},{"f":8,"y":1.03,"lo":7.8,"hi":8.2},{"f":8,"y":1.07,"lo":7.88,"hi":8.12},{"f":8,"y":1.15,"lo":7.96,"hi":8.04},{"f":8,"y":1.25,"lo":7.985,"hi":8.015},{"f":8,"y":1.288,"lo":7.995,"hi":8.005},
{"f":9,"y":0.723,"lo":8.99,"hi":9.01},{"f":9,"y":0.85,"lo":8.96,"hi":9.04},{"f":9,"y":0.93,"lo":8.88,"hi":9.12},{"f":9,"y":0.97,"lo":8.8,"hi":9.2},{"f":9,"y":1.0,"lo":8.75,"hi":9.25},{"f":9,"y":1.03,"lo":8.8,"hi":9.2},{"f":9,"y":1.07,"lo":8.88,"hi":9.12},{"f":9,"y":1.15,"lo":8.96,"hi":9.04},{"f":9,"y":1.25,"lo":8.985,"hi":9.015},{"f":9,"y":1.338,"lo":8.995,"hi":9.005},
{"f":10,"y":0.682,"lo":9.99,"hi":10.01},{"f":10,"y":0.85,"lo":9.96,"hi":10.04},{"f":10,"y":0.93,"lo":9.88,"hi":10.12},{"f":10,"y":0.97,"lo":9.8,"hi":10.2},{"f":10,"y":1.0,"lo":9.75,"hi":10.25},{"f":10,"y":1.03,"lo":9.8,"hi":10.2},{"f":10,"y":1.07,"lo":9.88,"hi":10.12},{"f":10,"y":1.15,"lo":9.96,"hi":10.04},{"f":10,"y":1.25,"lo":9.985,"hi":10.015},{"f":10,"y":1.358,"lo":9.995,"hi":10.005},
{"f":11,"y":0.714,"lo":10.99,"hi":11.01},{"f":11,"y":0.85,"lo":10.96,"hi":11.04},{"f":11,"y":0.93,"lo":10.88,"hi":11.12},{"f":11,"y":0.97,"lo":10.8,"hi":11.2},{"f":11,"y":1.0,"lo":10.75,"hi":11.25},{"f":11,"y":1.03,"lo":10.8,"hi":11.2},{"f":11,"y":1.07,"lo":10.88,"hi":11.12},{"f":11,"y":1.15,"lo":10.96,"hi":11.04},{"f":11,"y":1.25,"lo":10.985,"hi":11.015},{"f":11,"y":1.308,"lo":10.995,"hi":11.005},
{"f":12,"y":0.743,"lo":11.99,"hi":12.01},{"f":12,"y":0.85,"lo":11.94,"hi":12.06},{"f":12,"y":0.98,"lo":11.83,"hi":12.17},{"f":12,"y":1.11,"lo":11.75,"hi":12.25},{"f":12,"y":1.25,"lo":11.8,"hi":12.2},{"f":12,"y":1.4,"lo":11.9,"hi":12.1},{"f":12,"y":1.6,"lo":11.96,"hi":12.04},{"f":12,"y":1.9,"lo":11.988,"hi":12.012},{"f":12,"y":2.236,"lo":11.995,"hi":12.005},
{"f":13,"y":0.884,"lo":12.99,"hi":13.01},{"f":13,"y":0.97,"lo":12.94,"hi":13.06},{"f":13,"y":1.1,"lo":12.85,"hi":13.15},{"f":13,"y":1.31,"lo":12.75,"hi":13.25},{"f":13,"y":1.5,"lo":12.82,"hi":13.18},{"f":13,"y":1.7,"lo":12.93,"hi":13.07},{"f":13,"y":1.95,"lo":12.98,"hi":13.02},{"f":13,"y":2.412,"lo":12.995,"hi":13.005},
{"f":14,"y":0.904,"lo":13.99,"hi":14.01},{"f":14,"y":1.0,"lo":13.94,"hi":14.06},{"f":14,"y":1.15,"lo":13.84,"hi":14.16},{"f":14,"y":1.34,"lo":13.75,"hi":14.25},{"f":14,"y":1.55,"lo":13.83,"hi":14.17},{"f":14,"y":1.8,"lo":13.93,"hi":14.07},{"f":14,"y":2.1,"lo":13.98,"hi":14.02},{"f":14,"y":2.623,"lo":13.995,"hi":14.005},
{"f":15,"y":0.942,"lo":14.99,"hi":15.01},{"f":15,"y":1.05,"lo":14.93,"hi":15.07},{"f":15,"y":1.2,"lo":14.83,"hi":15.17},{"f":15,"y":1.4,"lo":14.75,"hi":15.25},{"f":15,"y":1.6,"lo":14.81,"hi":15.19},{"f":15,"y":1.9,"lo":14.92,"hi":15.08},{"f":15,"y":2.2,"lo":14.975,"hi":15.025},{"f":15,"y":2.764,"lo":14.995,"hi":15.005},
{"f":16,"y":0.816,"lo":15.99,"hi":16.01},{"f":16,"y":0.9,"lo":15.95,"hi":16.05},{"f":16,"y":1.05,"lo":15.83,"hi":16.17},{"f":16,"y":1.2,"lo":15.75,"hi":16.25},{"f":16,"y":1.4,"lo":15.76,"hi":16.24},{"f":16,"y":1.6,"lo":15.85,"hi":16.15},{"f":16,"y":1.8,"lo":15.94,"hi":16.06},{"f":16,"y":2.05,"lo":15.98,"hi":16.02},{"f":16,"y":2.333,"lo":15.995,"hi":16.005},
{"f":17,"y":0.327,"lo":16.995,"hi":17.005},{"f":17,"y":0.45,"lo":16.95,"hi":17.05},{"f":17,"y":0.6,"lo":16.85,"hi":17.15},{"f":17,"y":0.78,"lo":16.75,"hi":17.25},{"f":17,"y":0.9,"lo":16.8,"hi":17.2},{"f":17,"y":1.0,"lo":16.92,"hi":17.08},{"f":17,"y":1.08,"lo":16.97,"hi":17.03},{"f":17,"y":1.153,"lo":16.995,"hi":17.005},
{"f":18,"y":0.72,"lo":17.99,"hi":18.01},{"f":18,"y":0.85,"lo":17.96,"hi":18.04},{"f":18,"y":0.93,"lo":17.88,"hi":18.12},{"f":18,"y":0.97,"lo":17.8,"hi":18.2},{"f":18,"y":1.0,"lo":17.75,"hi":18.25},{"f":18,"y":1.03,"lo":17.8,"hi":18.2},{"f":18,"y":1.07,"lo":17.88,"hi":18.12},{"f":18,"y":1.15,"lo":17.96,"hi":18.04},{"f":18,"y":1.25,"lo":17.985,"hi":18.015},{"f":18,"y":1.308,"lo":17.995,"hi":18.005},
{"f":19,"y":0.734,"lo":18.99,"hi":19.01},{"f":19,"y":0.85,"lo":18.96,"hi":19.04},{"f":19,"y":0.93,"lo":18.88,"hi":19.12},{"f":19,"y":0.97,"lo":18.8,"hi":19.2},{"f":19,"y":1.0,"lo":18.75,"hi":19.25},{"f":19,"y":1.03,"lo":18.8,"hi":19.2},{"f":19,"y":1.07,"lo":18.88,"hi":19.12},{"f":19,"y":1.15,"lo":18.96,"hi":19.04},{"f":19,"y":1.25,"lo":18.985,"hi":19.015},{"f":19,"y":1.294,"lo":18.995,"hi":19.005},
{"f":20,"y":0.734,"lo":19.99,"hi":20.01},{"f":20,"y":0.85,"lo":19.96,"hi":20.04},{"f":20,"y":0.93,"lo":19.88,"hi":20.12},{"f":20,"y":0.97,"lo":19.8,"hi":20.2},{"f":20,"y":1.0,"lo":19.75,"hi":20.25},{"f":20,"y":1.03,"lo":19.8,"hi":20.2},{"f":20,"y":1.07,"lo":19.88,"hi":20.12},{"f":20,"y":1.15,"lo":19.96,"hi":20.04},{"f":20,"y":1.25,"lo":19.985,"hi":20.015},{"f":20,"y":1.317,"lo":19.995,"hi":20.005},
{"f":21,"y":0.699,"lo":20.99,"hi":21.01},{"f":21,"y":0.85,"lo":20.96,"hi":21.04},{"f":21,"y":0.93,"lo":20.88,"hi":21.12},{"f":21,"y":0.97,"lo":20.8,"hi":21.2},{"f":21,"y":1.0,"lo":20.75,"hi":21.25},{"f":21,"y":1.03,"lo":20.8,"hi":21.2},{"f":21,"y":1.07,"lo":20.88,"hi":21.12},{"f":21,"y":1.15,"lo":20.96,"hi":21.04},{"f":21,"y":1.25,"lo":20.985,"hi":21.015},{"f":21,"y":1.317,"lo":20.995,"hi":21.005},
{"f":22,"y":0.676,"lo":21.99,"hi":22.01},{"f":22,"y":0.85,"lo":21.96,"hi":22.04},{"f":22,"y":0.93,"lo":21.88,"hi":22.12},{"f":22,"y":0.97,"lo":21.8,"hi":22.2},{"f":22,"y":1.0,"lo":21.75,"hi":22.25},{"f":22,"y":1.03,"lo":21.8,"hi":22.2},{"f":22,"y":1.07,"lo":21.88,"hi":22.12},{"f":22,"y":1.15,"lo":21.96,"hi":22.04},{"f":22,"y":1.25,"lo":21.985,"hi":22.015},{"f":22,"y":1.314,"lo":21.995,"hi":22.005},
{"f":23,"y":0.729,"lo":22.99,"hi":23.01},{"f":23,"y":0.85,"lo":22.96,"hi":23.04},{"f":23,"y":0.93,"lo":22.88,"hi":23.12},{"f":23,"y":0.97,"lo":22.8,"hi":23.2},{"f":23,"y":1.0,"lo":22.75,"hi":23.25},{"f":23,"y":1.03,"lo":22.8,"hi":23.2},{"f":23,"y":1.07,"lo":22.88,"hi":23.12},{"f":23,"y":1.15,"lo":22.96,"hi":23.04},{"f":23,"y":1.25,"lo":22.985,"hi":23.015},{"f":23,"y":1.314,"lo":22.995,"hi":23.005},
{"f":24,"y":0.743,"lo":23.99,"hi":24.01},{"f":24,"y":0.85,"lo":23.96,"hi":24.04},{"f":24,"y":0.93,"lo":23.88,"hi":24.12},{"f":24,"y":0.97,"lo":23.8,"hi":24.2},{"f":24,"y":1.0,"lo":23.75,"hi":24.25},{"f":24,"y":1.03,"lo":23.8,"hi":24.2},{"f":24,"y":1.07,"lo":23.88,"hi":24.12},{"f":24,"y":1.15,"lo":23.96,"hi":24.04},{"f":24,"y":1.25,"lo":23.985,"hi":24.015},{"f":24,"y":1.294,"lo":23.995,"hi":24.005},
{"f":25,"y":0.647,"lo":24.99,"hi":25.01},{"f":25,"y":0.85,"lo":24.96,"hi":25.04},{"f":25,"y":0.93,"lo":24.88,"hi":25.12},{"f":25,"y":0.97,"lo":24.8,"hi":25.2},{"f":25,"y":1.0,"lo":24.75,"hi":25.25},{"f":25,"y":1.03,"lo":24.8,"hi":25.2},{"f":25,"y":1.07,"lo":24.88,"hi":25.12},{"f":25,"y":1.15,"lo":24.96,"hi":25.04},{"f":25,"y":1.25,"lo":24.985,"hi":25.015},{"f":25,"y":1.379,"lo":24.995,"hi":25.005},
{"f":26,"y":0.723,"lo":25.99,"hi":26.01},{"f":26,"y":0.85,"lo":25.96,"hi":26.04},{"f":26,"y":0.93,"lo":25.88,"hi":26.12},{"f":26,"y":0.97,"lo":25.8,"hi":26.2},{"f":26,"y":1.0,"lo":25.75,"hi":26.25},{"f":26,"y":1.03,"lo":25.8,"hi":26.2},{"f":26,"y":1.07,"lo":25.88,"hi":26.12},{"f":26,"y":1.15,"lo":25.96,"hi":26.04},{"f":26,"y":1.25,"lo":25.985,"hi":26.015},{"f":26,"y":1.308,"lo":25.995,"hi":26.005},
{"f":27,"y":0.673,"lo":26.99,"hi":27.01},{"f":27,"y":0.85,"lo":26.96,"hi":27.04},{"f":27,"y":0.93,"lo":26.88,"hi":27.12},{"f":27,"y":0.97,"lo":26.8,"hi":27.2},{"f":27,"y":1.0,"lo":26.75,"hi":27.25},{"f":27,"y":1.03,"lo":26.8,"hi":27.2},{"f":27,"y":1.07,"lo":26.88,"hi":27.12},{"f":27,"y":1.15,"lo":26.96,"hi":27.04},{"f":27,"y":1.25,"lo":26.985,"hi":27.015},{"f":27,"y":1.338,"lo":26.995,"hi":27.005}
]
},
"hconcat": [
{
"width": 398, "height": 306,
"title": "Object Removal Dataset",
"layer": [
{"data": {"name": "s1"},
 "transform": [{"lookup": "f", "from": {"data": {"name": "m1"}, "key": "f", "fields": ["k"]}}],
 "mark": {"type": "area", "orient": "horizontal", "opacity": 1, "strokeWidth": 0},
 "encoding": {
  "y": {"field": "y", "type": "quantitative", "title": "Short Term L2 Distance", "scale": {"domain": [18, 1024], "nice": false, "zero": false}, "axis": {"values": [200, 400, 600, 800, 1000], "format": "d"}},
  "x": {"field": "lo", "type": "quantitative", "title": "Frame", "scale": {"domain": [1.525, 28.475], "nice": false, "zero": false}, "axis": {"values": [5, 10, 15, 20, 25], "format": "d"}},
  "x2": {"field": "hi"},
  "detail": {"field": "f", "type": "nominal"},
  "color": {"field": "k", "type": "nominal", "scale": {"domain": ["Same Video", "Interjection"], "range": ["#0000ff", "#ff0000"]}, "legend": {"title": null}}
 }},
{"data": {"name": "m1"}, "mark": {"type": "rule", "color": "#1f77b4", "strokeWidth": 1.5},
 "encoding": {"x": {"field": "f", "type": "quantitative", "title": "Frame"}, "y": {"field": "min", "type": "quantitative", "title": "Short Term L2 Distance"}, "y2": {"field": "max"}}},
{"data": {"name": "m1"}, "mark": {"type": "tick", "orient": "horizontal", "size": 4, "thickness": 1.5, "color": "#1f77b4", "opacity": 1},
 "encoding": {"x": {"field": "f", "type": "quantitative", "title": "Frame"}, "y": {"field": "min", "type": "quantitative", "title": "Short Term L2 Distance"}}},
{"data": {"name": "m1"}, "mark": {"type": "tick", "orient": "horizontal", "size": 4, "thickness": 1.5, "color": "#1f77b4", "opacity": 1},
 "encoding": {"x": {"field": "f", "type": "quantitative", "title": "Frame"}, "y": {"field": "max", "type": "quantitative", "title": "Short Term L2 Distance"}}}
]
},
{
"width": 398, "height": 306,
"title": "Object Removal Dataset",
"layer": [
{"data": {"name": "s2"},
 "transform": [{"lookup": "f", "from": {"data": {"name": "m2"}, "key": "f", "fields": ["k"]}}],
 "mark": {"type": "area", "orient": "horizontal", "opacity": 1, "strokeWidth": 0},
 "encoding": {
  "y": {"field": "y", "type": "quantitative", "title": "Long Term L2 Distance", "scale": {"domain": [295, 5990], "nice": false, "zero": false}, "axis": {"values": [1000, 2000, 3000, 4000, 5000], "format": "d"}},
  "x": {"field": "lo", "type": "quantitative", "title": "Frame", "scale": {"domain": [2.575, 28.425], "nice": false, "zero": false}, "axis": {"values": [5, 10, 15, 20, 25], "format": "d"}},
  "x2": {"field": "hi"},
  "detail": {"field": "f", "type": "nominal"},
  "color": {"field": "k", "type": "nominal", "scale": {"domain": ["Same Video", "Interjection"], "range": ["#0000ff", "#ff0000"]}, "legend": {"title": null}}
 }},
{"data": {"name": "m2"}, "mark": {"type": "rule", "color": "#1f77b4", "strokeWidth": 1.5},
 "encoding": {"x": {"field": "f", "type": "quantitative", "title": "Frame"}, "y": {"field": "min", "type": "quantitative", "title": "Long Term L2 Distance"}, "y2": {"field": "max"}}},
{"data": {"name": "m2"}, "mark": {"type": "tick", "orient": "horizontal", "size": 4, "thickness": 1.5, "color": "#1f77b4", "opacity": 1},
 "encoding": {"x": {"field": "f", "type": "quantitative", "title": "Frame"}, "y": {"field": "min", "type": "quantitative", "title": "Long Term L2 Distance"}}},
{"data": {"name": "m2"}, "mark": {"type": "tick", "orient": "horizontal", "size": 4, "thickness": 1.5, "color": "#1f77b4", "opacity": 1},
 "encoding": {"x": {"field": "f", "type": "quantitative", "title": "Frame"}, "y": {"field": "max", "type": "quantitative", "title": "Long Term L2 Distance"}}}
]
},
{
"width": 398, "height": 306,
"title": "Object Removal Dataset",
"layer": [
{"data": {"name": "s3"},
 "transform": [{"lookup": "f", "from": {"data": {"name": "m3"}, "key": "f", "fields": ["k"]}}],
 "mark": {"type": "area", "orient": "horizontal", "opacity": 1, "strokeWidth": 0},
 "encoding": {
  "y": {"field": "y", "type": "quantitative", "title": "Short Term Frame-to-Frame Ratio", "scale": {"domain": [0.2, 2.883], "nice": false, "zero": false}, "axis": {"values": [0.5, 1.0, 1.5, 2.0, 2.5], "format": ".1f"}},
  "x": {"field": "lo", "type": "quantitative", "title": "Frame", "scale": {"domain": [1.525, 28.475], "nice": false, "zero": false}, "axis": {"values": [5, 10, 15, 20, 25], "format": "d"}},
  "x2": {"field": "hi"},
  "detail": {"field": "f", "type": "nominal"},
  "color": {"field": "k", "type": "nominal", "scale": {"domain": ["Same Video", "Interjection"], "range": ["#0000ff", "#ff0000"]}, "legend": {"title": null}}
 }},
{"data": {"name": "m3"}, "mark": {"type": "rule", "color": "#1f77b4", "strokeWidth": 1.5},
 "encoding": {"x": {"field": "f", "type": "quantitative", "title": "Frame"}, "y": {"field": "min", "type": "quantitative", "title": "Short Term Frame-to-Frame Ratio"}, "y2": {"field": "max"}}},
{"data": {"name": "m3"}, "mark": {"type": "tick", "orient": "horizontal", "size": 4, "thickness": 1.5, "color": "#1f77b4", "opacity": 1},
 "encoding": {"x": {"field": "f", "type": "quantitative", "title": "Frame"}, "y": {"field": "min", "type": "quantitative", "title": "Short Term Frame-to-Frame Ratio"}}},
{"data": {"name": "m3"}, "mark": {"type": "tick", "orient": "horizontal", "size": 4, "thickness": 1.5, "color": "#1f77b4", "opacity": 1},
 "encoding": {"x": {"field": "f", "type": "quantitative", "title": "Frame"}, "y": {"field": "max", "type": "quantitative", "title": "Short Term Frame-to-Frame Ratio"}}}
]
}
],
"resolve": {"scale": {"color": "independent", "x": "independent", "y": "independent"}, "legend": {"color": "independent"}},
"config": {
 "font": "DejaVu Sans",
 "view": {"stroke": "black", "strokeWidth": 1},
 "axis": {"grid": false, "domain": false, "tickColor": "black", "tickSize": 4, "tickWidth": 1, "labelFont": "DejaVu Sans", "labelFontSize": 12, "labelColor": "black", "titleFont": "DejaVu Sans", "titleFontSize": 12, "titleColor": "black", "titleFontWeight": "normal"},
 "axisX": {"labelPadding": 4, "titlePadding": 5},
 "axisY": {"labelPadding": 5, "titlePadding": 7},
 "title": {"font": "DejaVu Sans", "fontSize": 14.4, "fontWeight": "normal", "color": "black", "offset": 6, "frame": "group", "anchor": "middle"},
 "legend": {"orient": "top-right", "offset": 6, "padding": 5, "rowPadding": 6, "symbolType": "M-2.1667,-0.75L2.1667,-0.75L2.1667,0.75L-2.1667,0.75Z", "symbolSize": 144, "symbolOffset": 6, "labelOffset": 17, "symbolStrokeWidth": 0, "symbolOpacity": 1, "fillColor": "rgba(255,255,255,0.8)", "strokeColor": "#cccccc", "cornerRadius": 3, "labelFont": "DejaVu Sans", "labelFontSize": 12, "labelColor": "black"}
}
}
